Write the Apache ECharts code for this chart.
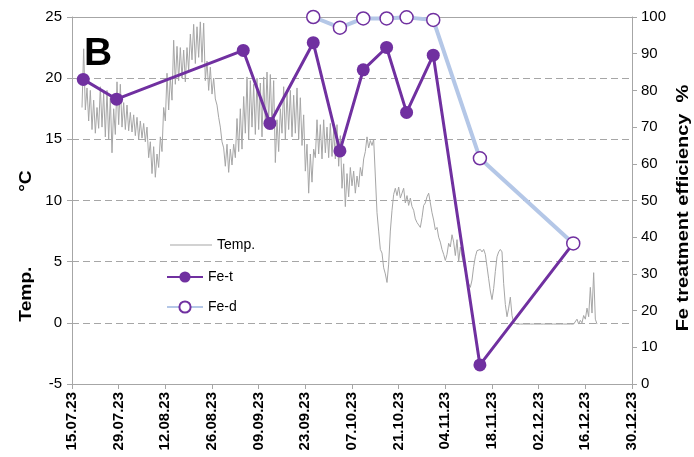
<!DOCTYPE html>
<html>
<head>
<meta charset="utf-8">
<script src="https://cdn.jsdelivr.net/npm/echarts@6/dist/echarts.min.js"></script>
<style>
  html, body { margin: 0; padding: 0; background: #ffffff; }
  #chart { width: 694px; height: 457px; }
</style>
</head>
<body>
<div id="chart"></div>
<script>
// Time axis: ticks every two weeks
const axisStartDate = '15.07.23';
const axisEndDate = '30.12.23';
const tickStepDays = 14;

// Value axes
const tempAxis = { min: -5, max: 25, step: 5 };
const effAxis = { min: 0, max: 100, step: 10 };

// Water temperature, one reading every 12 h (00:00 / 12:00) from the first day
const tempFirstReading = '18.07.23';
const tempStepHours = 12;
const tempValues = [
  17.6, 22.4, 17.4, 19.2, 16.5, 19.0, 15.8, 18.2, 15.5, 17.6, 15.9, 19.3, 16.0, 18.8,
  15.2, 19.0, 15.0, 18.4, 13.9, 17.5, 15.4, 19.7, 16.2, 19.5, 16.0, 18.0, 15.8, 17.8,
  15.7, 17.2, 15.6, 17.0, 15.3, 16.8, 15.0, 16.5, 15.1, 16.3, 14.8, 16.0, 13.5, 14.8,
  12.2, 14.4, 11.9, 13.8, 12.7, 15.2, 14.0, 17.6, 16.5, 20.4, 17.4, 20.1, 18.2, 23.1,
  19.5, 22.6, 19.8, 22.5, 20.0, 22.3, 19.7, 22.5, 20.6, 23.6, 21.5, 24.4, 21.2, 24.2,
  21.7, 24.6, 21.3, 24.5, 19.8, 21.4, 19.0, 20.9, 18.7, 20.0, 18.3, 17.8, 16.8, 16.0,
  14.8, 14.3, 12.8, 14.6, 12.3, 14.2, 12.9, 14.6, 13.5, 16.7, 14.0, 17.5, 14.2, 18.5,
  15.5, 20.1, 15.0, 19.8, 16.0, 19.5, 15.4, 20.0, 15.8, 19.6, 15.2, 20.1, 16.3, 20.5,
  16.5, 20.3, 15.8, 19.8, 13.1, 16.6, 14.0, 17.5, 15.5, 19.3, 15.0, 18.8, 15.8, 19.0,
  15.2, 18.6, 15.5, 19.2, 15.0, 18.4, 14.5, 17.0, 12.4, 14.6, 10.6, 13.8, 11.5, 14.2,
  13.5, 16.6, 13.8, 16.2, 13.4, 16.6, 13.9, 16.0, 13.5, 16.3, 13.6, 15.8, 13.4, 16.2,
  12.8, 15.3, 11.0, 13.0, 9.5, 12.2, 10.3, 12.7, 11.2, 12.4, 10.6, 12.0, 11.1, 12.7,
  12.0, 13.4, 14.0, 15.2, 14.3, 14.9, 14.5, 15.0, 12.0, 9.0, 7.5, 6.0, 5.7, 4.5,
  4.0, 3.3, 4.8, 7.5, 9.2, 10.5, 11.0, 10.4, 11.1, 10.2, 10.6, 11.0, 9.8, 10.4,
  9.6, 10.2, 9.5, 9.2, 8.5, 8.2, 8.0, 7.8, 8.6, 9.6, 9.8, 10.3, 10.6, 9.8,
  9.0, 8.4, 7.6, 7.8, 7.0, 6.6, 6.0, 5.6, 5.1, 5.6, 6.5, 6.2, 7.2, 6.6,
  5.5, 6.8, 5.0, 6.2, 5.4, 4.8, 4.2, 3.8, 3.2, 2.9, 3.5, 4.6, 5.4, 5.9,
  5.9, 6.0, 5.8, 6.0, 5.6, 4.6, 3.6, 2.6, 1.9, 2.8, 4.2, 5.4, 5.8, 6.0,
  5.8, 3.2, 1.5, 0.5, 1.2, 2.1, 0.6, 0.0, -0.1, -0.1, -0.1, -0.1, -0.1, -0.1,
  -0.1, -0.1, -0.1, -0.1, -0.1, -0.1, -0.1, -0.1, -0.1, -0.1, -0.1, -0.1, -0.1, -0.1,
  -0.1, -0.1, -0.1, -0.1, -0.1, -0.1, -0.1, -0.1, -0.1, -0.1, -0.1, -0.1, -0.1, -0.1,
  -0.1, -0.1, 0.0, 0.3, -0.1, 0.2, 0.0, 0.6, 0.3, 1.2, 0.5, 2.9, 0.8, 4.1,
  0.3, -0.1
];

// Fe treatment efficiency (%), samples taken in the morning
const samplingHour = 9;
const feTotalDates = ['18.07.23', '28.07.23', '04.09.23', '12.09.23', '25.09.23', '03.10.23',
                      '10.10.23', '17.10.23', '23.10.23', '31.10.23', '14.11.23', '12.12.23'];
const feTotal = [83.0, 77.6, 90.9, 71.0, 93.0, 63.5, 85.6, 91.7, 74.0, 89.6, 5.2, 38.3];
const feDissolvedDates = ['25.09.23', '03.10.23', '10.10.23', '17.10.23', '23.10.23', '31.10.23',
                          '14.11.23', '12.12.23'];
const feDissolved = [100, 97.1, 99.6, 99.6, 99.9, 99.2, 61.5, 38.3];

const DAY_MS = 86400000;
function parseDate(s) {
  const [dd, mm, yy] = s.split('.').map(Number);
  return Date.UTC(2000 + yy, mm - 1, dd);
}
const originMs = parseDate(axisStartDate);
function dayOffset(s) { return (parseDate(s) - originMs) / DAY_MS; }
function pad(n) { return (n < 10 ? '0' : '') + n; }
function formatDay(v) {
  const d = new Date(originMs + Math.round(v) * DAY_MS);
  return pad(d.getUTCDate()) + '.' + pad(d.getUTCMonth() + 1) + '.' + String(d.getUTCFullYear()).slice(2);
}

const tempStart = dayOffset(tempFirstReading);
const tempSeries = tempValues.map((t, i) => [tempStart + i * tempStepHours / 24, t]);
const feTotalSeries = feTotalDates.map((d, i) => [dayOffset(d) + samplingHour / 24, feTotal[i]]);
const feDissolvedSeries = feDissolvedDates.map((d, i) => [dayOffset(d) + samplingHour / 24, feDissolved[i]]);

const FONT = "'Liberation Sans', Arial, sans-serif";
const AXIS_GREY = '#A6A6A6';
const PURPLE = '#7030A0';
const LIGHT_BLUE = '#B4C7E7';

const chart = echarts.init(document.getElementById('chart'), null, { renderer: 'canvas' });

const xCommon = {
  type: 'value',
  min: 0,
  max: dayOffset(axisEndDate),
  interval: tickStepDays
};

const legendText = { fontFamily: FONT, fontSize: 14, color: '#000' };

chart.setOption({
  animation: false,
  backgroundColor: '#ffffff',
  grid: { left: 72, right: 62, top: 17, bottom: 73, containLabel: false, outerBoundsMode: 'none' },
  xAxis: [
    Object.assign({}, xCommon, {
      position: 'bottom',
      axisLine: { show: true, onZero: false, lineStyle: { color: AXIS_GREY, width: 1 } },
      axisTick: { show: true, length: 5, lineStyle: { color: AXIS_GREY } },
      splitLine: { show: false },
      axisLabel: {
        rotate: 90, margin: 8, formatter: formatDay,
        fontFamily: FONT, fontSize: 15, fontWeight: 'bold', color: '#000'
      }
    }),
    Object.assign({}, xCommon, {
      position: 'top',
      axisLine: { show: true, onZero: false, lineStyle: { color: AXIS_GREY, width: 1 } },
      axisTick: { show: false },
      axisLabel: { show: false },
      splitLine: { show: false }
    })
  ],
  yAxis: [
    {
      type: 'value', position: 'left',
      min: tempAxis.min, max: tempAxis.max, interval: tempAxis.step,
      axisLine: { show: true, onZero: false, lineStyle: { color: AXIS_GREY } },
      axisTick: { show: true, length: 5, lineStyle: { color: AXIS_GREY } },
      axisLabel: { margin: 10, fontFamily: FONT, fontSize: 15, color: '#000' },
      splitLine: { show: true, lineStyle: { color: AXIS_GREY, type: [7, 4], width: 1 } }
    },
    {
      type: 'value', position: 'right',
      min: effAxis.min, max: effAxis.max, interval: effAxis.step,
      axisLine: { show: true, onZero: false, lineStyle: { color: AXIS_GREY } },
      axisTick: { show: true, length: 5, lineStyle: { color: AXIS_GREY } },
      axisLabel: { margin: 9, fontFamily: FONT, fontSize: 15, color: '#000' },
      splitLine: { show: false }
    }
  ],
  legend: [
    {
      orient: 'vertical', left: 170, top: 238, padding: 0,
      itemWidth: 42, itemHeight: 14,
      textStyle: legendText,
      data: [{ name: 'Temp.', icon: 'path://M0,0 L42,0 L42,1.2 L0,1.2 Z' }]
    },
    {
      orient: 'vertical', left: 166, top: 270, padding: 0,
      itemWidth: 36, itemHeight: 14, itemGap: 16,
      textStyle: legendText,
      data: ['Fe-t', 'Fe-d']
    }
  ],
  series: [
    {
      name: 'Temp.', type: 'line', xAxisIndex: 0, yAxisIndex: 0,
      data: tempSeries, symbol: 'none', z: 2,
      lineStyle: { color: AXIS_GREY, width: 1 },
      itemStyle: { color: AXIS_GREY }
    },
    {
      name: 'Fe-t', type: 'line', xAxisIndex: 0, yAxisIndex: 1,
      data: feTotalSeries, symbol: 'circle', symbolSize: 13, showAllSymbol: true, z: 3,
      lineStyle: { color: PURPLE, width: 3 },
      itemStyle: { color: PURPLE }
    },
    {
      name: 'Fe-d', type: 'line', xAxisIndex: 0, yAxisIndex: 1,
      data: feDissolvedSeries, symbol: 'circle', symbolSize: 13, showAllSymbol: true, z: 4,
      lineStyle: { color: LIGHT_BLUE, width: 4 },
      itemStyle: { color: '#ffffff', borderColor: PURPLE, borderWidth: 1.5 }
    }
  ],
  graphic: [
    {
      type: 'text', left: 84, top: 35, z: 10,
      style: { text: 'B', font: "bold 39px " + FONT, fill: '#000' }
    },
    {
      type: 'text', x: 27, y: 246, rotation: Math.PI / 2, scaleX: 1.2, z: 10,
      style: { text: 'Temp.              °C', font: "bold 16px " + FONT, fill: '#000',
               textAlign: 'center', textVerticalAlign: 'middle' }
    },
    {
      type: 'text', x: 684, y: 208, rotation: Math.PI / 2, scaleX: 1.25, z: 10,
      style: { text: 'Fe treatment efficiency  %', font: "bold 16px " + FONT, fill: '#000',
               textAlign: 'center', textVerticalAlign: 'middle' }
    }
  ]
});
</script>
</body>
</html>
